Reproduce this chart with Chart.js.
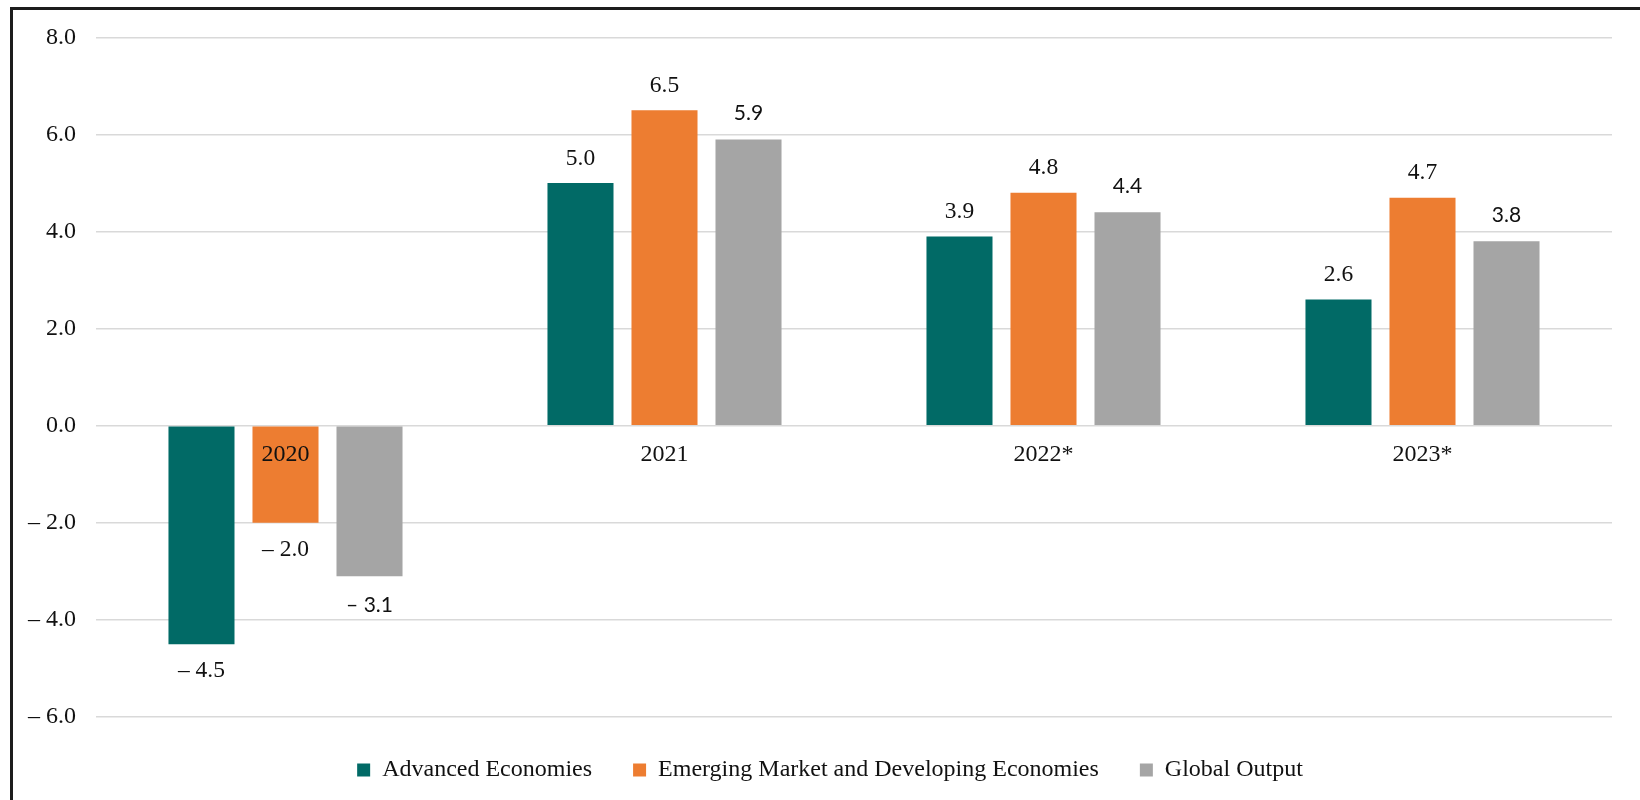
<!DOCTYPE html>
<html>
<head>
<meta charset="utf-8">
<title>Real GDP growth</title>
<script src="https://cdn.jsdelivr.net/npm/chart.js@4.4.1/dist/chart.umd.min.js"></script>
<style>
  html, body { margin: 0; padding: 0; background: #ffffff; }
  #wrap { position: relative; width: 1640px; height: 800px; overflow: hidden; }
  #frame {
    position: absolute; left: 10px; top: 7px; width: 1640px; height: 800px;
    border-top: 3px solid #1c1c1c; border-left: 3px solid #1c1c1c; box-sizing: border-box;
    pointer-events: none;
  }
  canvas { position: absolute; left: 0; top: 0; }
</style>
</head>
<body>
<div id="wrap">
  <canvas id="chart" width="1640" height="800"></canvas>
  <div id="frame"></div>
</div>
<script>
// Years shown on the category axis
const categories = ['2020', '2021', '2022*', '2023*'];

// Growth rates (%) by economy group
const advancedEconomies = [-4.5, 5.0, 3.9, 2.6];
const emergingEconomies = [-2.0, 6.5, 4.8, 4.7];
const globalOutput = [-3.1, 5.9, 4.4, 3.8];

const seriesNames = ['Advanced Economies', 'Emerging Market and Developing Economies', 'Global Output'];

// Value-axis ticks
const yTicks = [8, 6, 4, 2, 0, -2, -4, -6];

const SERIF = '"Liberation Serif", "Times New Roman", serif';
const SANS = 'Lato, "Open Sans", sans-serif';
const TEXT = '#111111';

// Negative numbers are written with an en dash and a space
function fmt(v) {
  return v < 0 ? '\u2013 ' + Math.abs(v).toFixed(1) : v.toFixed(1);
}

// Per-series appearance of the value labels
const labelStyles = [
  { font: '23.5px ' + SERIF, above: 24.5, below: 27 },
  { font: '23.5px ' + SERIF, above: 24.5, below: 27 },
  { font: '21px ' + SANS, above: 26, below: 28.5 }
];

// Writes each bar's value above (positive) or below (negative) the bar
const valueLabels = {
  id: 'valueLabels',
  afterDatasetsDraw(chart) {
    const ctx = chart.ctx;
    chart.data.datasets.forEach((ds, i) => {
      const meta = chart.getDatasetMeta(i);
      const st = labelStyles[i];
      ctx.save();
      ctx.font = st.font;
      ctx.fillStyle = TEXT;
      ctx.textAlign = 'center';
      ctx.textBaseline = 'middle';
      meta.data.forEach((bar, j) => {
        const v = ds.data[j];
        const y = v >= 0 ? bar.y - st.above : bar.y + st.below;
        ctx.fillText(fmt(v), bar.x, y);
      });
      ctx.restore();
    });
  }
};

// Keeps the legend band at a fixed height under the plot area and
// nudges it so the row is centred under the whole frame
const LEGEND_BAND = 83;
const LEGEND_SHIFT = 24;
const legendBand = {
  id: 'legendBand',
  beforeLayout(chart) {
    const lg = chart.legend;
    if (lg && !lg._bandFixed) {
      const fit = lg.fit;
      lg.fit = function () { fit.call(this); this.height = LEGEND_BAND; };
      lg._bandFixed = true;
    }
  },
  afterLayout(chart) {
    const lg = chart.legend;
    if (lg) {
      lg.left += LEGEND_SHIFT;
      lg.right += LEGEND_SHIFT;
    }
  }
};

const colors = ['#016a66', '#ed7d31', '#a5a5a5'];
const seriesData = [advancedEconomies, emergingEconomies, globalOutput];

new Chart(document.getElementById('chart'), {
  type: 'bar',
  data: {
    labels: categories,
    datasets: seriesData.map((d, i) => ({
      label: seriesNames[i],
      data: d,
      backgroundColor: colors[i],
      borderWidth: 0,
      categoryPercentage: 0.665,
      barPercentage: 0.786
    }))
  },
  options: {
    responsive: false,
    animation: false,
    devicePixelRatio: 1,
    layout: { padding: { top: 37.5, left: 0, right: 28, bottom: 0 } },
    plugins: {
      tooltip: { enabled: false },
      legend: {
        position: 'bottom',
        labels: {
          color: TEXT,
          font: { family: SERIF, size: 24 },
          boxWidth: 13,
          boxHeight: 13,
          padding: 41
        }
      }
    },
    scales: {
      x: {
        position: { y: 0 },
        grid: { display: false, drawTicks: false },
        border: { display: false },
        ticks: {
          z: 1,
          padding: 15,
          color: TEXT,
          font: { family: SERIF, size: 24 },
          maxRotation: 0
        }
      },
      y: {
        min: -6,
        max: 8,
        afterBuildTicks(scale) {
          scale.ticks = yTicks.map(v => ({ value: v }));
        },
        afterFit(scale) { scale.width = 96; },
        grid: { color: '#d9d9d9', lineWidth: 1.5, drawTicks: false },
        border: { display: false },
        ticks: {
          padding: 20,
          color: TEXT,
          font: { family: SERIF, size: 24 },
          callback: (v) => fmt(v)
        }
      }
    }
  },
  plugins: [valueLabels, legendBand]
});
</script>
</body>
</html>
